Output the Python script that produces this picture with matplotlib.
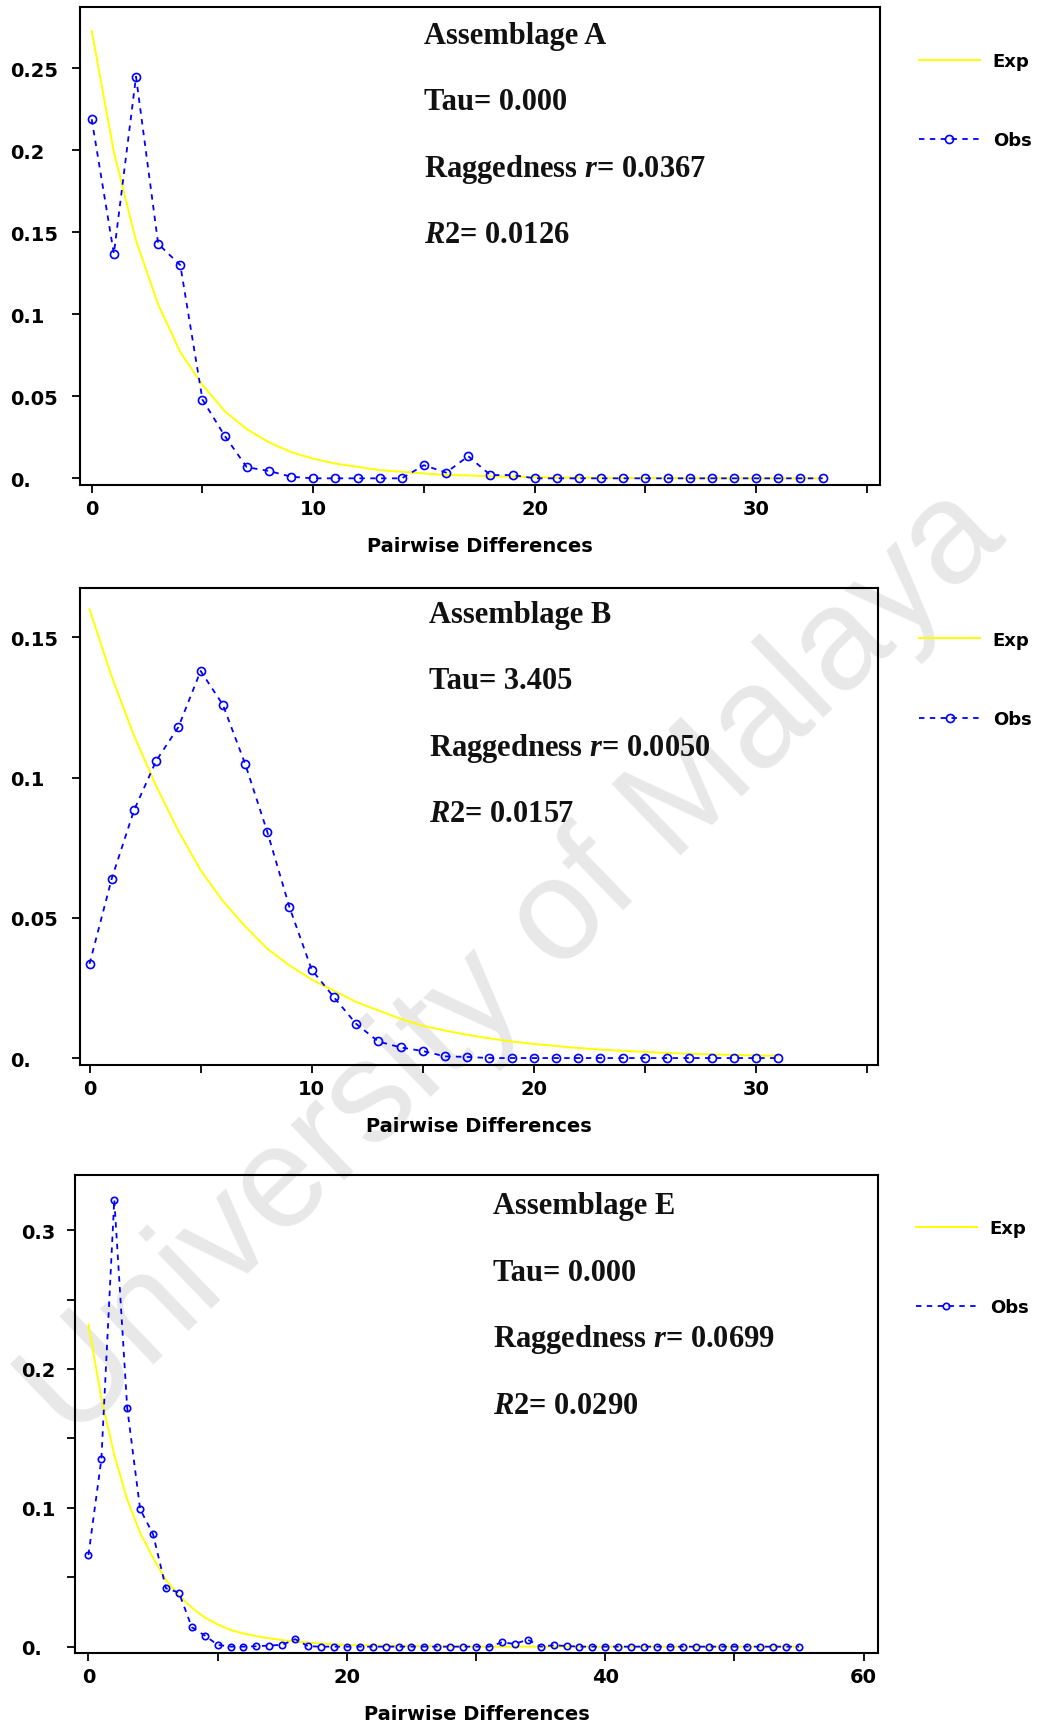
import numpy as np
import matplotlib
matplotlib.use('Agg')
import matplotlib.pyplot as plt

plt.rcParams['mathtext.fontset'] = 'custom'
plt.rcParams['mathtext.it'] = 'Liberation Serif:italic:bold'
plt.rcParams['mathtext.rm'] = 'Liberation Serif:bold'

# Assemblage A (pairwise differences 0..33)
exp_a = [0.273, 0.199, 0.145, 0.106, 0.077, 0.057, 0.041, 0.030, 0.022, 0.016,
         0.012, 0.009, 0.007, 0.005, 0.004, 0.003, 0.002, 0.0018, 0.0012, 0.001,
         0.0007, 0.0005, 0.0004, 0.0003, 0.0002, 0.0002, 0.0001, 0.0001, 0.0001, 0.0,
         0.0, 0.0, 0.0, 0.0]
obs_a = [0.219, 0.137, 0.245, 0.143, 0.130, 0.048, 0.026, 0.0068, 0.0045, 0.001,
         0.0, 0.0, 0.0, 0.0, 0.0, 0.008, 0.0035, 0.0135, 0.002, 0.002,
         0.0, 0.0, 0.0, 0.0, 0.0, 0.0, 0.0, 0.0, 0.0, 0.0,
         0.0, 0.0, 0.0, 0.0]
text_a = ['Assemblage A', 'Tau= 0.000', r'Raggedness $\mathit{r}$= 0.0367', r'$\mathit{R2}$= 0.0126']

# Assemblage B (0..31)
exp_b = [0.160, 0.136, 0.115, 0.097, 0.081, 0.067, 0.056, 0.047, 0.039, 0.033,
         0.028, 0.024, 0.020, 0.017, 0.014, 0.0115, 0.0098, 0.0083, 0.0070, 0.0059,
         0.0050, 0.0043, 0.0036, 0.0030, 0.0026, 0.0022, 0.0018, 0.0015, 0.0013, 0.0011,
         0.0009, 0.0008]
obs_b = [0.0336, 0.064, 0.0883, 0.106, 0.118, 0.138, 0.126, 0.105, 0.0807, 0.0538,
         0.0315, 0.0217, 0.0122, 0.0059, 0.0038, 0.0025, 0.0006, 0.0004, 0.0, 0.0,
         0.0, 0.0, 0.0, 0.0, 0.0, 0.0, 0.0, 0.0, 0.0, 0.0,
         0.0, 0.0]
text_b = ['Assemblage B', 'Tau= 3.405', r'Raggedness $\mathit{r}$= 0.0050', r'$\mathit{R2}$= 0.0157']

# Assemblage E (0..55)
exp_e = [0.232, 0.179, 0.138, 0.106, 0.082, 0.064, 0.048, 0.037, 0.028, 0.021,
         0.016, 0.012, 0.0095, 0.0075, 0.006, 0.0047, 0.0037, 0.0029, 0.0022, 0.0017,
         0.0013, 0.001, 0.0008, 0.0006, 0.0005, 0.0004, 0.0003, 0.0002, 0.0002, 0.0001,
         0.0, 0.0, 0.0, 0.0, 0.0, 0.0, 0.0, 0.0, 0.0, 0.0,
         0.0, 0.0, 0.0, 0.0, 0.0, 0.0, 0.0, 0.0, 0.0, 0.0,
         0.0, 0.0, 0.0, 0.0, 0.0, 0.0]
obs_e = [0.066, 0.135, 0.322, 0.172, 0.099, 0.081, 0.042, 0.039, 0.014, 0.008,
         0.0013, 0.0, 0.0, 0.0003, 0.0008, 0.0013, 0.0054, 0.0003, 0.0, 0.0,
         0.0, 0.0, 0.0, 0.0, 0.0, 0.0, 0.0, 0.0, 0.0, 0.0,
         0.0, 0.0, 0.003, 0.002, 0.005, 0.0, 0.001, 0.0005, 0.0, 0.0,
         0.0, 0.0, 0.0, 0.0, 0.0, 0.0, 0.0, 0.0, 0.0, 0.0,
         0.0, 0.0, 0.0, 0.0, 0.0, 0.0]
text_e = ['Assemblage E', 'Tau= 0.000', r'Raggedness $\mathit{r}$= 0.0699', r'$\mathit{R2}$= 0.0290']

yticks_a = [0, 0.05, 0.1, 0.15, 0.2, 0.25]
ylabels_a = ['0.', '0.05', '0.1', '0.15', '0.2', '0.25']
yticks_b = [0, 0.05, 0.1, 0.15]
ylabels_b = ['0.', '0.05', '0.1', '0.15']
yticks_e = [0, 0.1, 0.2, 0.3]
ylabels_e = ['0.', '0.1', '0.2', '0.3']

fig = plt.figure(figsize=(10.48, 17.31), dpi=100)

# watermark of the source document
fig.text(0.49, 0.443, 'University of Malaya', rotation=44, fontsize=104,
         color='#e8e8e8', ha='center', va='center', family='Liberation Sans',
         rotation_mode='anchor', zorder=-1)


def panel(rect, exp, obs, yt, yl, xmaj, xmin_, ymin_, xlim, ylim, texts, tx, ty,
          ypad, ms, leg_xy):
    ax = fig.add_axes(rect)
    ax.set_facecolor('none')
    ax.plot(np.arange(len(exp)), exp, color='#ffff00', lw=1.4, label='Exp', zorder=2)
    ax.plot(np.arange(len(obs)), obs, color='#0000ff', lw=1.3, ls=(0, (3, 3)),
            marker='o', ms=ms, mfc='none', mec='#0000ff', mew=1.2, label='Obs', zorder=3)
    ax.set_xlim(*xlim)
    ax.set_ylim(*ylim)
    ax.set_xticks(xmaj, [str(v) for v in xmaj], fontweight='bold', fontsize=14)
    ax.set_xticks(xmin_, minor=True)
    ax.set_yticks(yt, yl, fontweight='bold', fontsize=14, ha='left')
    if ymin_:
        ax.set_yticks(ymin_, minor=True)
    ax.tick_params(axis='both', which='both', direction='out', length=6, width=1.3)
    ax.tick_params(axis='x', pad=4)
    ax.tick_params(axis='y', pad=ypad)
    for s in ax.spines.values():
        s.set_linewidth(1.5)
    ax.set_xlabel('Pairwise Differences', fontsize=14, fontweight='bold', labelpad=13)
    for i, t in enumerate(texts):
        ax.text(tx, ty - i * 0.139, t, transform=ax.transAxes, fontsize=22,
                family='Liberation Serif', fontweight='bold', color='#111111',
                ha='left', va='center')
    ax.legend(loc='upper left', bbox_to_anchor=leg_xy, frameon=False, borderpad=0,
              borderaxespad=0, handlelength=3.4, handletextpad=0.7, labelspacing=3.4,
              numpoints=1, prop={'family': 'DejaVu Sans', 'weight': 'bold', 'size': 13})
    return ax


panel([0.0759, 0.7193, 0.764, 0.2763], exp_a, obs_a, yticks_a, ylabels_a,
      [0, 10, 20, 30], [5, 15, 25, 35], None, (-0.55, 35.6), (-0.004, 0.2877),
      text_a, 0.430, 0.940, 44, 5.8, (1.048, 0.905))

panel([0.0759, 0.3843, 0.762, 0.2756], exp_b, obs_b, yticks_b, ylabels_b,
      [0, 10, 20, 30], [5, 15, 25, 35], None, (-0.45, 35.5), (-0.0024, 0.1677),
      text_b, 0.437, 0.944, 44, 5.8, (1.051, 0.910))

panel([0.0717, 0.0443, 0.766, 0.2763], exp_e, obs_e, yticks_e, ylabels_e,
      [0, 20, 40, 60], [10, 30, 50], [0.05, 0.15, 0.25], (-1.03, 61.1), (-0.0048, 0.3397),
      text_e, 0.52, 0.936, 33, 4.6, (1.047, 0.908))

fig.savefig('out.png', dpi=100)
